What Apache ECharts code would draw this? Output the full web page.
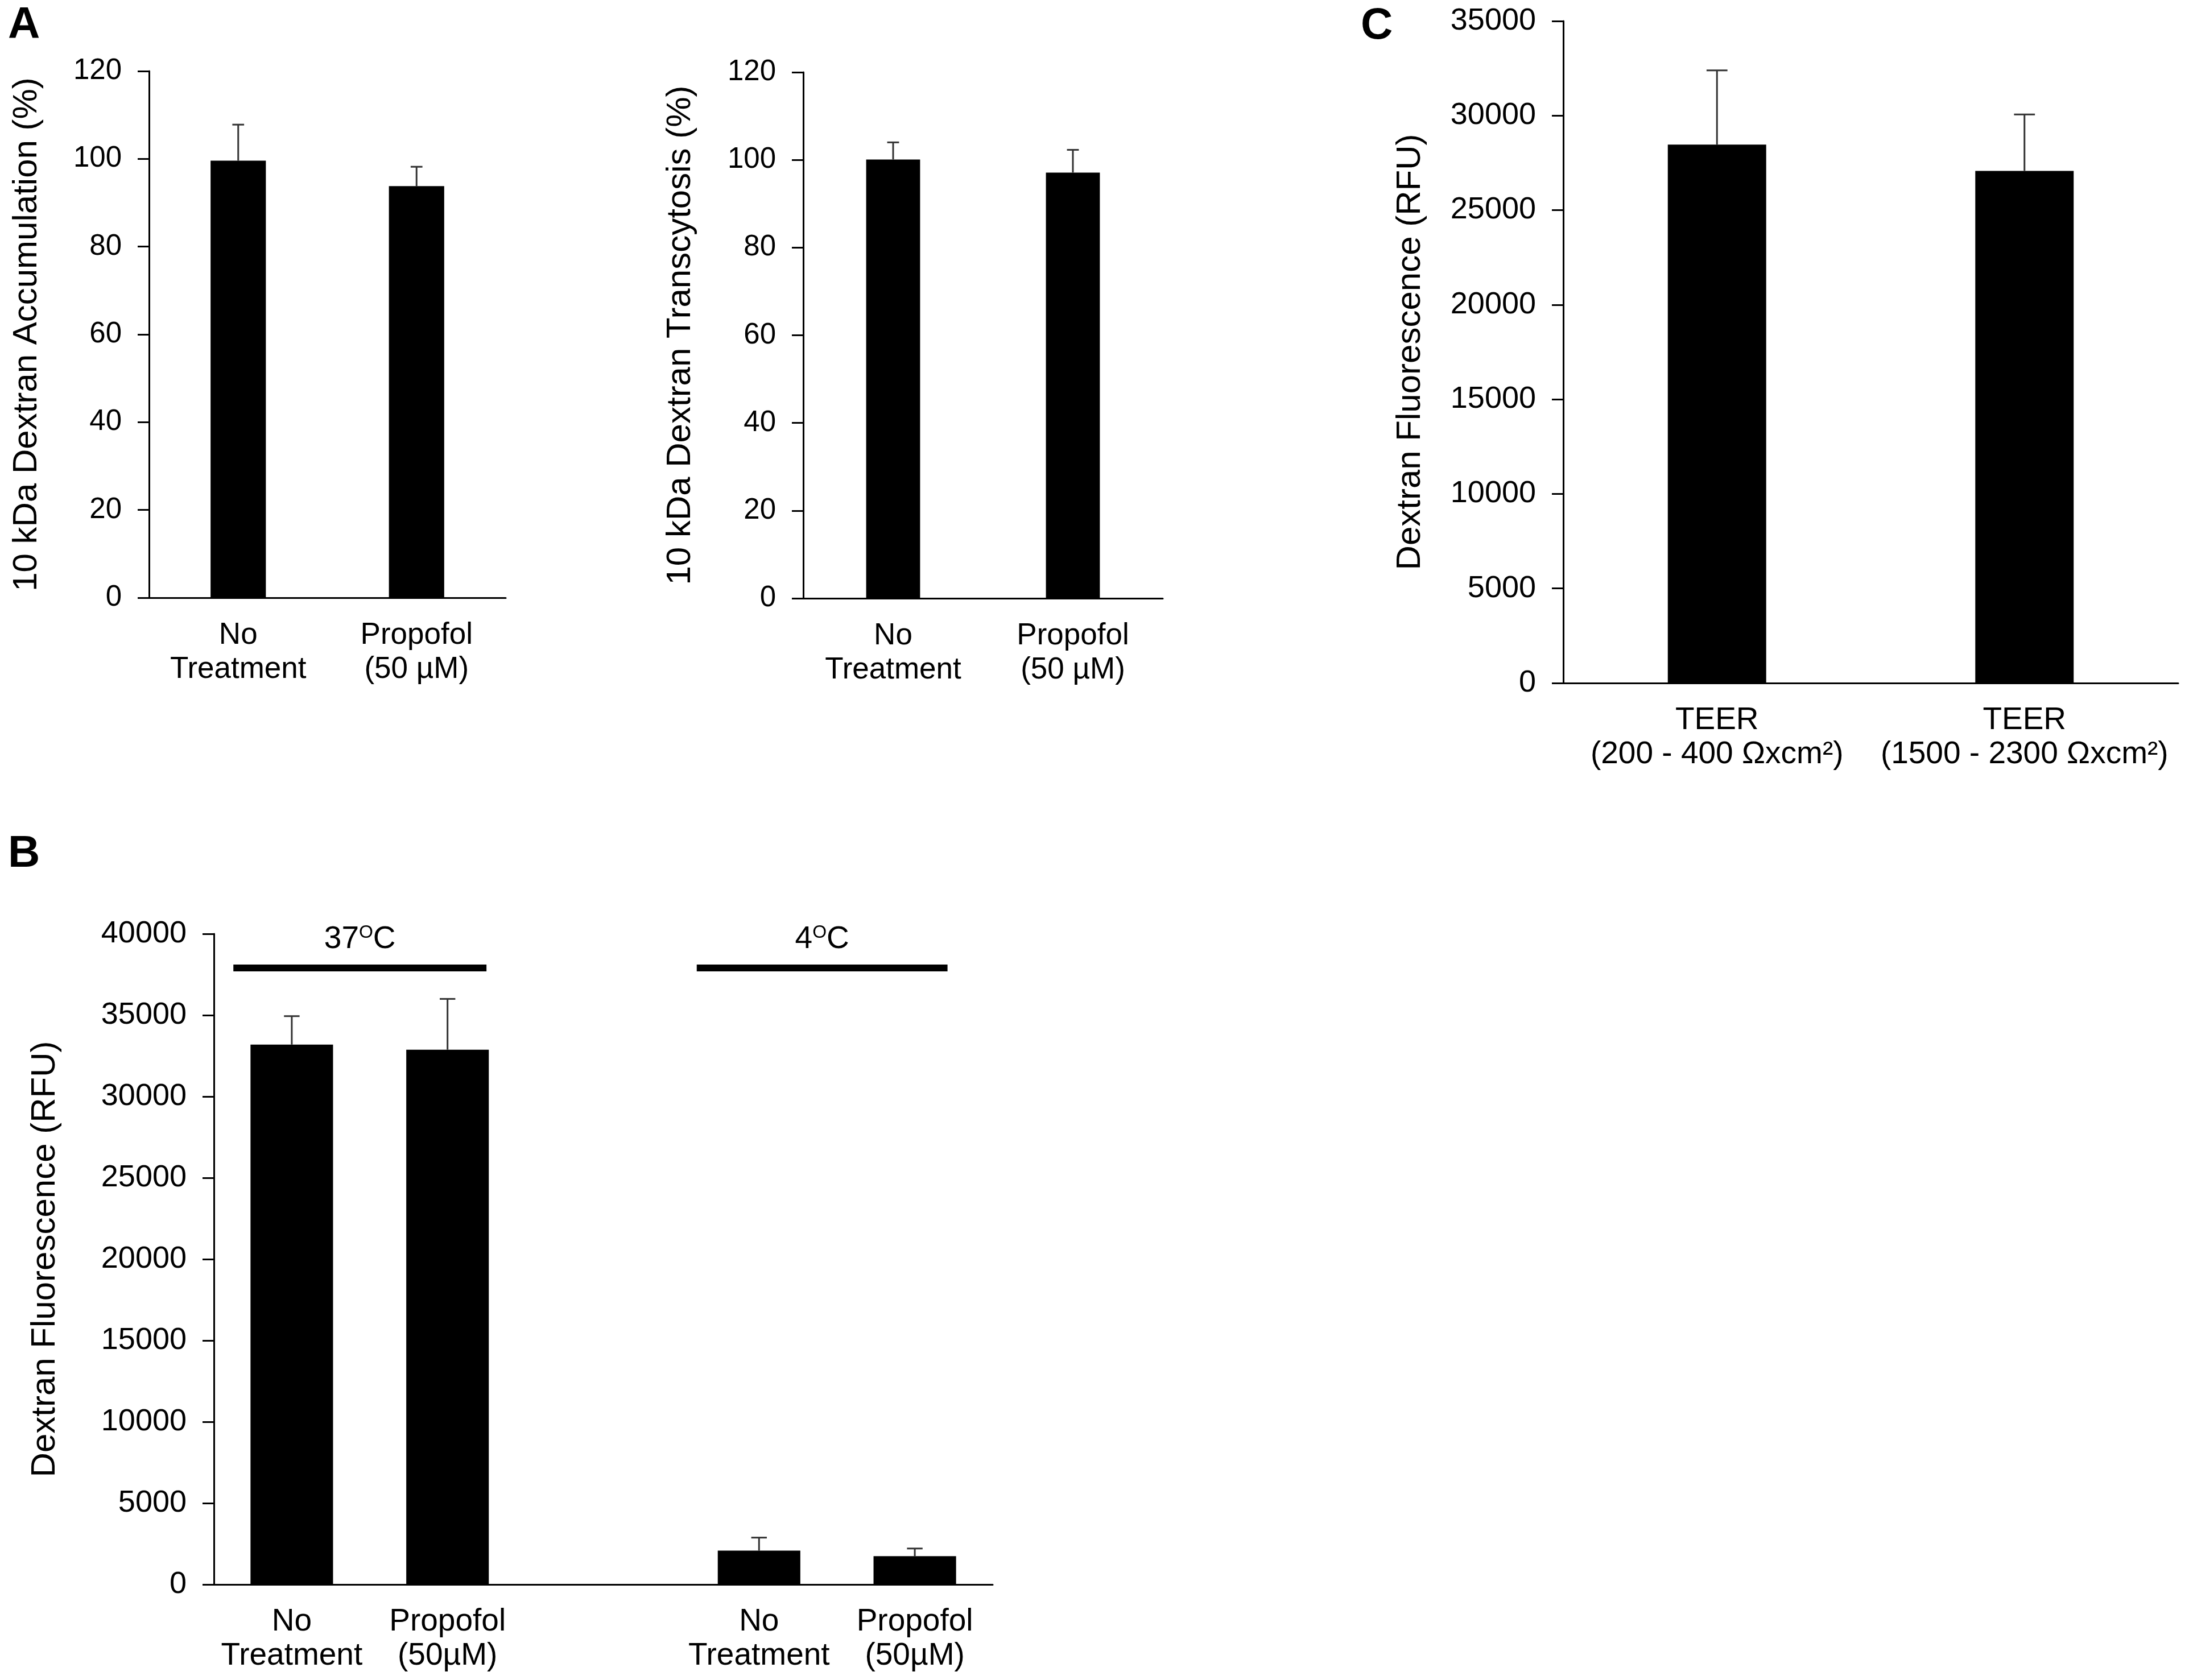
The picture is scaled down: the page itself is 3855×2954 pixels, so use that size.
<!DOCTYPE html>
<html>
<head>
<meta charset="utf-8">
<script src="https://cdn.jsdelivr.net/npm/echarts@6/dist/echarts.min.js"></script>
<style>
  html, body { margin: 0; padding: 0; background: #fff; }
  #chart { width: 3855px; height: 2954px; }
</style>
</head>
<body>
<div id="chart"></div>
<script>
// panel A (left): 10 kDa dextran accumulation, % of untreated
const catsA = ["No\nTreatment", "Propofol\n(50 µM)"];
const accumMean = [99.6, 93.8];
const accumErr = [8.2, 4.4];
// panel A (right): 10 kDa dextran transcytosis, %
const transMean = [100.1, 97.1];
const transErr = [3.9, 5.2];
const ticksA = { max: 120, interval: 20 };

// panel B: temperature dependence, RFU
const catsB = ["No\nTreatment", "Propofol\n(50µM)", "", "No\nTreatment", "Propofol\n(50µM)"];
const tempMean = [33190, 32880, null, 2080, 1740];
const tempErr = [1750, 3120, null, 800, 470];
const ticksB = { max: 40000, interval: 5000 };
// temperature groups drawn as bars above the columns (category units)
const groupTemps = ["37", "4"];
const groupSpans = [[-0.375, 1.25], [2.6, 4.21]];
const groupLevel = [37900, 37900];

// panel C: TEER ranges, RFU
const catsC = ["TEER\n(200 - 400 Ωxcm²)", "TEER\n(1500 - 2300 Ωxcm²)"];
const teerMean = [28470, 27080];
const teerErr = [3920, 2980];
const ticksC = { max: 35000, interval: 5000 };

const FONT = "Liberation Sans, Arial, sans-serif";
const INK = "#000";
const TITLE_FS = 60;

const chart = echarts.init(document.getElementById("chart"), null, { renderer: "canvas" });

const grids = [
  { left: 262, top: 125, width: 627, height: 926 },    // A left
  { left: 1412, top: 127, width: 632, height: 925 },   // A right
  { left: 376, top: 1642, width: 1369, height: 1144 }, // B
  { left: 2748, top: 37, width: 1081, height: 1164 },  // C
].map((g) => Object.assign({ containLabel: false, outerBoundsMode: "none" }, g));

function catAxis(gridIndex, data, fs) {
  return {
    type: "category",
    gridIndex,
    data,
    boundaryGap: true,
    axisLine: { onZero: false, lineStyle: { color: INK, width: 3 } },
    axisTick: { show: false },
    axisLabel: { interval: 0, color: INK, fontSize: fs, fontFamily: FONT, lineHeight: 60, margin: 36 },
  };
}

function valAxis(gridIndex, ticks, name, nameGap, fs) {
  return {
    type: "value",
    gridIndex,
    min: 0,
    max: ticks.max,
    interval: ticks.interval,
    name,
    nameLocation: "middle",
    nameGap,
    nameTextStyle: { color: INK, fontSize: TITLE_FS, fontFamily: FONT },
    splitLine: { show: false },
    axisLine: { show: true, onZero: false, lineStyle: { color: INK, width: 3 } },
    axisTick: { show: true, length: 20, lineStyle: { color: INK, width: 3 } },
    axisLabel: { color: INK, fontSize: fs, fontFamily: FONT, margin: 48, formatter: (v) => String(v) },
  };
}

function bars(axisIndex, values, width) {
  return {
    type: "bar",
    xAxisIndex: axisIndex,
    yAxisIndex: axisIndex,
    data: values,
    barWidth: width,
    itemStyle: { color: INK },
    silent: true,
  };
}

// upper half error bar with a short cap
function errorBars(axisIndex, values, errs, capFrac) {
  const data = values
    .map((v, i) => (v == null ? null : [i, v, errs[i]]))
    .filter((d) => d);
  return {
    type: "custom",
    xAxisIndex: axisIndex,
    yAxisIndex: axisIndex,
    data,
    encode: { x: 0, y: 1 },
    z: 3,
    silent: true,
    renderItem(params, api) {
      const x = api.value(0);
      const v = api.value(1);
      const e = api.value(2);
      const base = api.coord([x, v]);
      const top = api.coord([x, v + e]);
      const cap = api.size([1, 0])[0] * capFrac;
      const style = { stroke: "#333", lineWidth: 3 };
      return {
        type: "group",
        children: [
          { type: "line", shape: { x1: top[0], y1: base[1], x2: top[0], y2: top[1] }, style },
          { type: "line", shape: { x1: top[0] - cap / 2, y1: top[1], x2: top[0] + cap / 2, y2: top[1] }, style },
        ],
      };
    },
  };
}

const groupSeries = {
  type: "custom",
  xAxisIndex: 4,
  yAxisIndex: 2,
  data: groupSpans.map((s, i) => [s[0], s[1], groupLevel[i], i]),
  encode: { x: [0, 1], y: 2 },
  silent: true,
  renderItem(params, api) {
    const p0 = api.coord([api.value(0), api.value(2)]);
    const p1 = api.coord([api.value(1), api.value(2)]);
    const t = groupTemps[api.value(3)];
    return {
      type: "group",
      children: [
        { type: "line", shape: { x1: p0[0], y1: p0[1], x2: p1[0], y2: p1[1] }, style: { stroke: INK, lineWidth: 12 } },
        {
          type: "text",
          x: (p0[0] + p1[0]) / 2,
          y: p0[1] - 50,
          style: {
            text: `{n|${t}}{s|O}{n|C}`,
            align: "center",
            verticalAlign: "middle",
            fill: INK,
            rich: {
              n: { fontSize: 55, fontFamily: FONT, lineHeight: 56, fill: INK },
              s: { fontSize: 32, fontFamily: FONT, lineHeight: 36, verticalAlign: "top", fill: INK },
            },
          },
        },
      ],
    };
  },
};

const letter = (txt, left, top) => ({
  type: "text",
  left,
  top,
  style: { text: txt, fontSize: 78, fontWeight: "bold", fontFamily: FONT, fill: INK },
});

chart.setOption({
  animation: false,
  backgroundColor: "#fff",
  textStyle: { fontFamily: FONT },
  grid: grids,
  xAxis: [
    catAxis(0, catsA, 53),
    catAxis(1, catsA, 53),
    catAxis(2, catsB, 55),
    catAxis(3, catsC, 55),
    { type: "value", gridIndex: 2, min: -0.5, max: 4.5, show: false, axisLine: { onZero: false } },
  ],
  yAxis: [
    valAxis(0, ticksA, "10 kDa Dextran Accumulation (%)", 185, 51),
    valAxis(1, ticksA, "10 kDa Dextran Transcytosis (%)", 186, 51),
    valAxis(2, ticksB, "Dextran Fluorescence (RFU)", 267, 54),
    valAxis(3, ticksC, "Dextran Fluorescence (RFU)", 239, 54),
  ],
  graphic: [letter("A", 14, 6), letter("B", 14, 1463), letter("C", 2392, 7)],
  series: [
    bars(0, accumMean, "31%"),
    errorBars(0, accumMean, accumErr, 0.066),
    bars(1, transMean, "30%"),
    errorBars(1, transMean, transErr, 0.066),
    bars(2, tempMean, "53%"),
    errorBars(2, tempMean, tempErr, 0.1),
    groupSeries,
    bars(3, teerMean, "32%"),
    errorBars(3, teerMean, teerErr, 0.068),
  ],
});
</script>
</body>
</html>
